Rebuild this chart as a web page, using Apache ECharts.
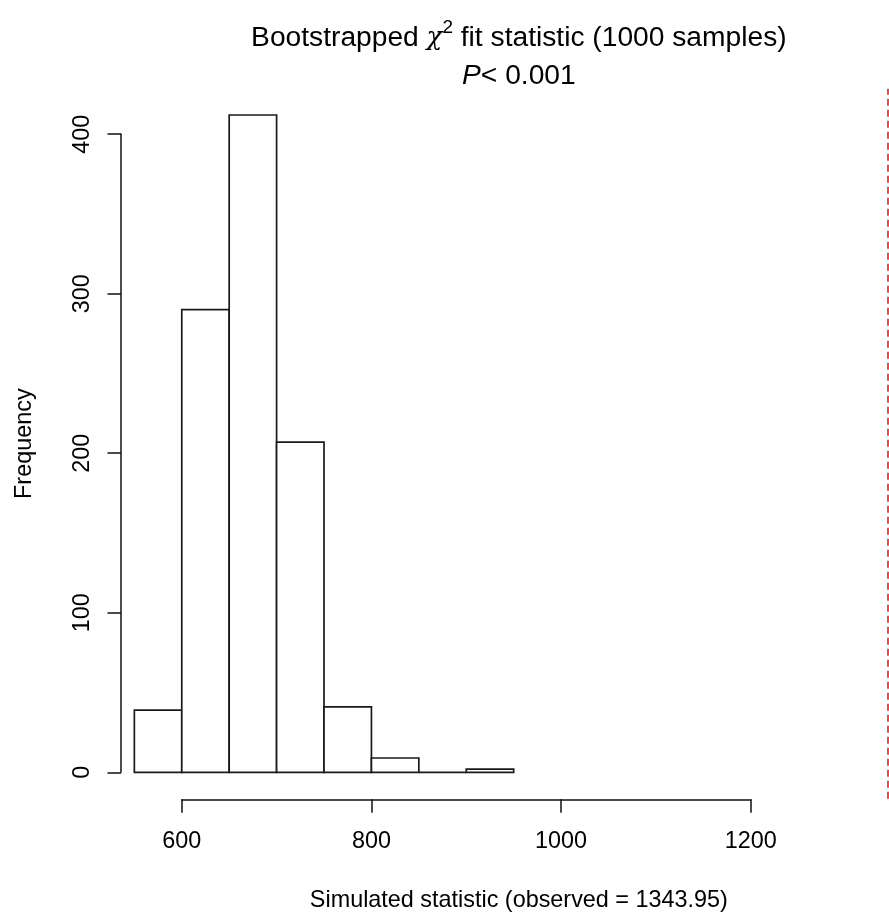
<!DOCTYPE html>
<html>
<head>
<meta charset="utf-8">
<script src="https://cdn.jsdelivr.net/npm/echarts@6/dist/echarts.min.js"></script>
<style>
  html, body { margin: 0; padding: 0; background: #ffffff; }
  #chart { width: 889px; height: 917px; }
</style>
</head>
<body>
<div id="chart"></div>
<script>
// Histogram bins of the bootstrapped statistic
const binStarts = [550, 600, 650, 700, 750, 800, 850, 900];
const binEnds   = [600, 650, 700, 750, 800, 850, 900, 950];
const counts    = [39, 290, 412, 207, 41, 9, 0, 2];

// Observed statistic, marked with a dashed vertical line
const observed = 1343.95;
const simulatedMin = 567;

// Tick values
const xTicks = [600, 800, 1000, 1200];
const yTicks = [0, 100, 200, 300, 400];

// Texts
const titleLine1 = '{n|Bootstrapped }{g|\u03c7}{s|2}{n| fit statistic (1000 samples)}';
const titleLine2 = '{i|P}{n|< 0.001}';
const xTitle = 'Simulated statistic (observed = 1343.95)';
const yTitle = 'Frequency';

// ---- layout (R-style plot region with 4% padding on each axis) ----
const FONT = "'Liberation Sans', Arial, sans-serif";
const pad = (lo, hi) => [lo - 0.04 * (hi - lo), hi + 0.04 * (hi - lo)];
const [xMin, xMax] = pad(simulatedMin, observed);
const [yMin, yMax] = pad(0, Math.max(...counts));

const pxPerX = 0.9483;
const pxPerY = 1.5955;
const plotLeft = 121;
const plotTop = 88.7;
const plotWidth = (xMax - xMin) * pxPerX;
const plotHeight = (yMax - yMin) * pxPerY;
const plotBottom = plotTop + plotHeight;
const centerX = plotLeft + plotWidth / 2;

const xAxisLeft = plotLeft + (xTicks[0] - xMin) * pxPerX;
const xAxisWidth = (xTicks[xTicks.length - 1] - xTicks[0]) * pxPerX;
const yAxisTop = plotTop + (yMax - yTicks[yTicks.length - 1]) * pxPerY;
const yAxisHeight = (yTicks[yTicks.length - 1] - yTicks[0]) * pxPerY;

const binData = binStarts.map((s, i) => [s, binEnds[i], counts[i]]);

const axisColor = '#111';
const hidden = { show: false };
const plainNumber = (v) => String(v);

const chart = echarts.init(document.getElementById('chart'), null, { renderer: 'canvas' });

chart.setOption({
  backgroundColor: '#ffffff',
  animation: false,
  textStyle: { fontFamily: FONT },
  grid: [
    // plot region (extends past the right edge of the canvas)
    { left: plotLeft, top: plotTop, width: plotWidth, height: plotHeight, outerBoundsMode: 'none', containLabel: false },
    // x axis (spans first to last tick)
    { left: xAxisLeft, width: xAxisWidth, top: plotBottom - 50, height: 50.7, outerBoundsMode: 'none', containLabel: false },
    // y axis (spans first to last tick)
    { left: plotLeft, width: 10, top: yAxisTop, height: yAxisHeight, outerBoundsMode: 'none', containLabel: false }
  ],
  xAxis: [
    {
      gridIndex: 0, type: 'value', min: xMin, max: xMax,
      axisLine: hidden, axisTick: hidden, axisLabel: hidden, splitLine: hidden,
      name: xTitle, nameLocation: 'middle', nameGap: 90,
      nameTextStyle: { fontFamily: FONT, fontSize: 23.4, color: '#000' }
    },
    {
      gridIndex: 1, type: 'value', min: xTicks[0], max: xTicks[xTicks.length - 1],
      interval: xTicks[1] - xTicks[0],
      axisLine: { show: true, lineStyle: { color: axisColor, width: 1.5 } },
      axisTick: { show: true, length: 13.5, lineStyle: { color: axisColor, width: 1.5 } },
      axisLabel: { show: true, margin: 31, formatter: plainNumber, fontFamily: FONT, fontSize: 23.4, color: '#000' },
      splitLine: hidden
    },
    {
      gridIndex: 2, type: 'value', min: 0, max: 1,
      axisLine: hidden, axisTick: hidden, axisLabel: hidden, splitLine: hidden
    }
  ],
  yAxis: [
    {
      gridIndex: 0, type: 'value', min: yMin, max: yMax,
      axisLine: hidden, axisTick: hidden, axisLabel: hidden, splitLine: hidden,
      name: yTitle, nameLocation: 'middle', nameGap: 85,
      nameTextStyle: { fontFamily: FONT, fontSize: 23.4, color: '#000' }
    },
    {
      gridIndex: 1, type: 'value', min: 0, max: 1,
      axisLine: hidden, axisTick: hidden, axisLabel: hidden, splitLine: hidden
    },
    {
      gridIndex: 2, type: 'value', min: yTicks[0], max: yTicks[yTicks.length - 1],
      interval: yTicks[1] - yTicks[0],
      axisLine: { show: true, lineStyle: { color: axisColor, width: 1.5 } },
      axisTick: { show: true, length: 13.5, lineStyle: { color: axisColor, width: 1.5 } },
      axisLabel: { show: true, rotate: 90, margin: 27, formatter: plainNumber, fontFamily: FONT, fontSize: 23.4, color: '#000' },
      splitLine: hidden
    }
  ],
  series: [
    {
      type: 'custom',
      xAxisIndex: 0, yAxisIndex: 0,
      data: binData,
      encode: { x: [0, 1], y: 2 },
      clip: false,
      renderItem: function (params, api) {
        const topLeft = api.coord([api.value(0), api.value(2)]);
        const bottomRight = api.coord([api.value(1), 0]);
        return {
          type: 'rect',
          shape: {
            x: topLeft[0], y: topLeft[1],
            width: bottomRight[0] - topLeft[0],
            height: bottomRight[1] - topLeft[1]
          },
          style: { fill: '#ffffff', stroke: '#1a1a1a', lineWidth: 1.7 }
        };
      }
    },
    {
      type: 'line',
      xAxisIndex: 0, yAxisIndex: 0,
      data: [],
      markLine: {
        silent: true,
        symbol: 'none',
        label: { show: false },
        lineStyle: { color: '#ff0000', type: [7, 4], width: 1.5 },
        data: [{ xAxis: observed }]
      }
    }
  ],
  graphic: [
    {
      type: 'text', x: centerX, y: 38, silent: true,
      style: {
        text: titleLine1, align: 'center', verticalAlign: 'middle',
        rich: {
          n: { fontFamily: FONT, fontSize: 28.2, lineHeight: 40, fill: '#000' },
          g: { fontFamily: "'DejaVu Serif', serif", fontStyle: 'italic', fontSize: 26, lineHeight: 40, fill: '#000' },
          s: { fontFamily: FONT, fontSize: 19, lineHeight: 18, verticalAlign: 'top', fill: '#000' }
        }
      }
    },
    {
      type: 'text', x: centerX, y: 76, silent: true,
      style: {
        text: titleLine2, align: 'center', verticalAlign: 'middle',
        rich: {
          i: { fontFamily: FONT, fontStyle: 'italic', fontSize: 28.2, fill: '#000' },
          n: { fontFamily: FONT, fontSize: 28.2, fill: '#000' }
        }
      }
    }
  ]
});
</script>
</body>
</html>
